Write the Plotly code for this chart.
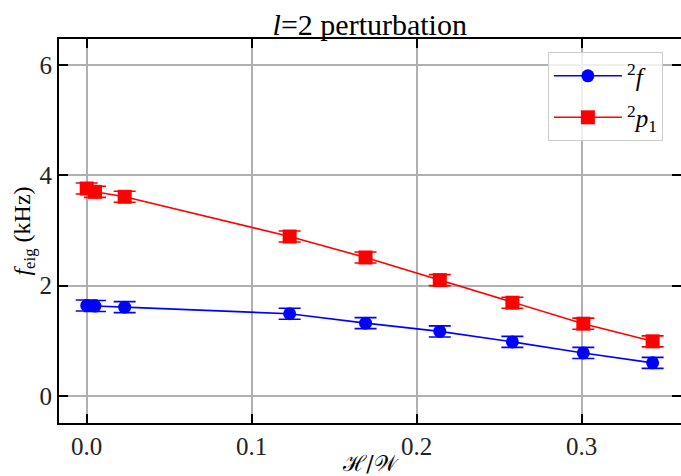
import plotly.graph_objects as go

# data
hw_ratio = [0.0, 0.005, 0.023, 0.123, 0.169, 0.214, 0.258, 0.301, 0.343]
f_2f = [1.64, 1.63, 1.61, 1.49, 1.32, 1.17, 0.98, 0.78, 0.60]
f_2p1 = [3.76, 3.70, 3.61, 2.89, 2.51, 2.10, 1.69, 1.31, 0.99]
err_2f = [0.1] * 9
err_2p1 = [0.1] * 9

x_ticks = [0.0, 0.1, 0.2, 0.3]
x_ticklabels = ["0.0", "0.1", "0.2", "0.3"]
y_ticks = [0, 2, 4, 6]

FONT = "Liberation Serif"

fig = go.Figure()
fig.add_trace(go.Scatter(
    x=hw_ratio, y=f_2f, mode="lines+markers", name="<sup>2</sup><i>f</i>",
    legendgroup="a",
    line=dict(color="#0000ff", width=1.6),
    marker=dict(symbol="circle", size=13, color="#0000ff"),
    error_y=dict(type="data", array=err_2f, color="#0000ff", thickness=1.6, width=11),
))
fig.add_trace(go.Scatter(
    x=hw_ratio, y=f_2p1, mode="lines+markers", name="<sup>2</sup><i>p</i><sub>1</sub>",
    legendgroup="b",
    line=dict(color="#ff0000", width=1.6),
    marker=dict(symbol="square", size=14, color="#ff0000"),
    error_y=dict(type="data", array=err_2p1, color="#ff0000", thickness=1.6, width=11),
))

axis_common = dict(
    showgrid=True, gridcolor="#b0b0b0", gridwidth=1.5,
    showline=True, linecolor="black", linewidth=2, mirror="ticks",
    ticks="inside", ticklen=9, tickwidth=2, tickcolor="black",
    zeroline=False, automargin=False,
    tickfont=dict(family=FONT, size=25, color="#222"),
)

fig.update_layout(
    width=681, height=476,
    margin=dict(l=59, r=0, t=39, b=53),
    paper_bgcolor="white", plot_bgcolor="white",
    font=dict(family=FONT, color="black"),
    title=dict(text="<i>l</i>=2 perturbation", x=0.543, xanchor="center",
               y=0.949, yanchor="middle", font=dict(family=FONT, size=30)),
    xaxis=dict(range=[-0.0168, 0.3602], tickvals=x_ticks, ticktext=x_ticklabels,
               title=dict(text="ℋ/𝒲", font=dict(family="DejaVu Serif", size=22), standoff=2),
               **axis_common),
    yaxis=dict(range=[-0.49, 6.47], tickvals=y_ticks,
               title=dict(text="<i>f</i><sub>eig</sub> (kHz)", font=dict(family=FONT, size=24), standoff=0),
               **axis_common),
    legend=dict(x=0.786, y=0.966, xanchor="left", yanchor="top",
                bordercolor="#cccccc", borderwidth=1, bgcolor="rgba(255,255,255,0.8)",
                font=dict(family=FONT, size=25), tracegroupgap=6, itemwidth=68),
    showlegend=True,
)

fig.write_html("out.html", config={"displayModeBar": False},
               post_script="document.body.style.margin='0';")
